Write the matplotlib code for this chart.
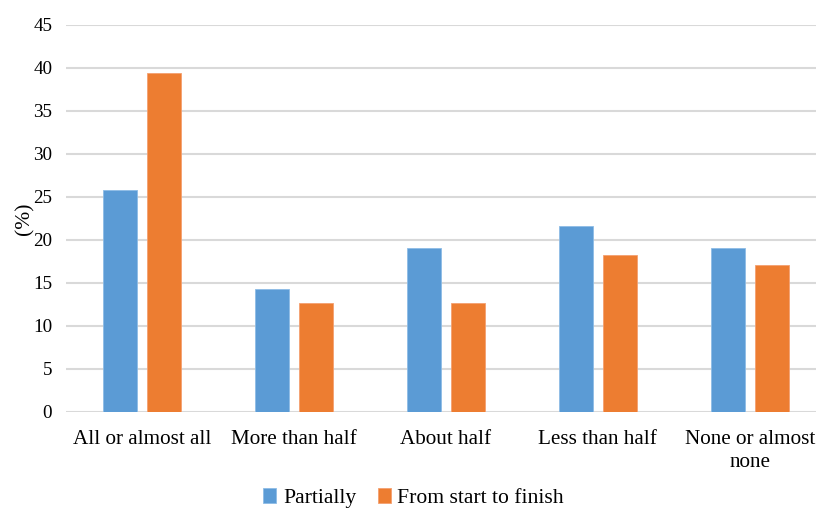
import matplotlib.pyplot as plt
import numpy as np

plt.rcParams['font.family'] = ['Liberation Serif', 'DejaVu Serif']

# Share of lessons watched, by viewing mode
categories = ['All or almost all', 'More than half', 'About half',
              'Less than half', 'None or almost\nnone']
partially = [25.8, 14.3, 19.1, 21.6, 19.1]
start_to_finish = [39.4, 12.6, 12.7, 18.2, 17.1]
series_names = ['Partially', 'From start to finish']
yticks = np.arange(0, 50, 5)

blue = '#5B9BD5'
orange = '#ED7D31'
grid_col = '#D9D9D9'

fig = plt.figure(figsize=(8.16, 5.08), dpi=100)
ax = fig.add_axes([0.0809, 0.1896, 0.931, 0.7612])

x = np.arange(len(categories))
w = 0.224
off = 0.145
ax.bar(x - off, partially, w, color=blue, edgecolor='#8DBCE6', linewidth=0.6,
       label=series_names[0], zorder=3)
ax.bar(x + off, start_to_finish, w, color=orange, edgecolor='#F4A070', linewidth=0.6,
       label=series_names[1], zorder=3)

ax.set_xlim(-0.5, len(categories) - 0.5)
ax.set_ylim(0, 45)
ax.set_yticks(yticks)
ax.set_xticks(x)
ax.set_xticklabels(categories, fontsize=15.2, linespacing=1.3)
ax.tick_params(axis='y', labelsize=13.8, length=0, pad=10)
ax.tick_params(axis='x', length=0, pad=13)
ax.yaxis.grid(True, color=grid_col, linewidth=1.5, zorder=0)
for s in ax.spines.values():
    s.set_visible(False)
ax.set_ylabel('(%)', fontsize=15.5, labelpad=-1)

fig.legend(loc='center', bbox_to_anchor=(0.507, 0.02), ncol=2, frameon=False,
           fontsize=15.6, handlelength=0.6, handleheight=0.75, handletextpad=0.3,
           columnspacing=1.0)

fig.savefig('out.png', dpi=100)
